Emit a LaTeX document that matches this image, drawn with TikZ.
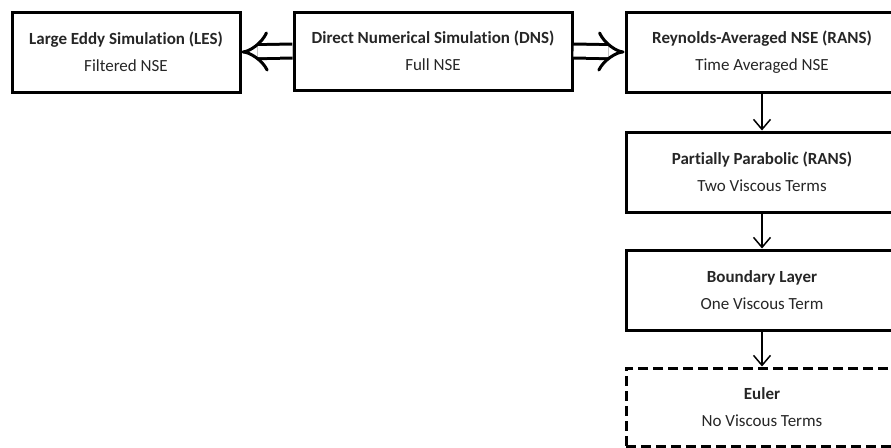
\documentclass[tikz,border=0pt]{standalone}
\usepackage{fontspec}
\setmainfont{Carlito}[Ligatures=NoCommon]
\usetikzlibrary{arrows.meta}

\begin{document}
\begin{tikzpicture}[
  x=1pt, y=1pt,
  every node/.style={font=\fontsize{17}{27}\selectfont, text=black!85},
  box/.style={draw=black, line width=3pt, align=center, minimum height=80pt},
  dashbox/.style={box, dashed, dash pattern=on 10pt off 5pt},
  thin arrow/.style={line width=1.5pt, -{Straight Barb[length=10pt,width=17pt,line width=1.5pt]}},
  fat arrow/.style={double, double distance=11pt, line width=3pt, -{Implies}}]
  \useasboundingbox (0,0) rectangle (891,-447);
  % top row
  \node[box, minimum width=228pt] (les) at (126,-52) {\textbf{Large Eddy Simulation (LES)}\\Filtered NSE};
  \node[box, minimum width=278pt, minimum height=78pt] (dns) at (433,-51) {\textbf{Direct Numerical Simulation (DNS)}\\Full NSE};
  \node[box, minimum width=272pt] (rans) at (762,-52) {\textbf{Reynolds-Averaged NSE (RANS)}\\Time Averaged NSE};
  % right column
  \node[box, minimum width=272pt] (pp) at (762,-172) {\textbf{Partially Parabolic (RANS)}\\Two Viscous Terms};
  \node[box, minimum width=272pt] (bl) at (762,-290) {\textbf{Boundary Layer}\\One Viscous Term};
  \node[dashbox, minimum width=272pt, minimum height=78pt] (euler) at (762,-407) {\textbf{Euler}\\No Viscous Terms};
  \draw[fat arrow] (dns.west) -- (les.east);
  \draw[fat arrow] (dns.east) -- (rans.west);
  \draw[thin arrow] (rans) -- (pp);
  \draw[thin arrow] (pp) -- (bl);
  \draw[thin arrow] (bl) -- (euler);
\end{tikzpicture}
\end{document}
